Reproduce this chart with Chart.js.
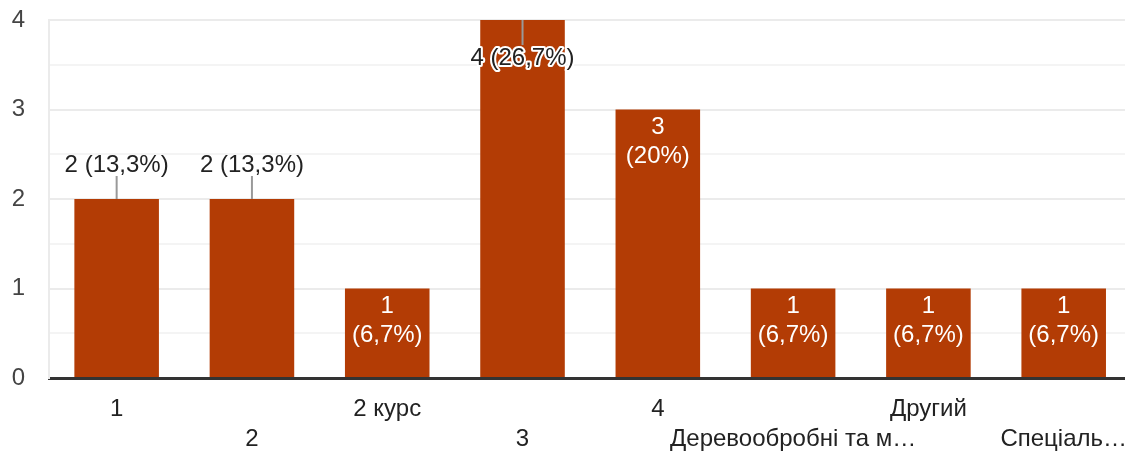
<!DOCTYPE html>
<html>
<head>
<meta charset="utf-8">
<script src="https://cdn.jsdelivr.net/npm/chart.js@4"></script>
<style>
  body { margin: 0; overflow: hidden; background: #fff; }
  #wrap { position: absolute; left: 0; top: 0; width: 1143px; height: 452px; }
</style>
</head>
<body>
<div id="wrap"><canvas id="barChart"></canvas></div>
<script>
const categories = ['1', '2', '2 курс', '3', '4', 'Деревообробні та м…', 'Другий', 'Спеціаль…'];
const counts = [2, 2, 1, 4, 3, 1, 1, 1];
const yTicks = [0, 1, 2, 3, 4];
// where each annotation sits: above with stem, inside top with stem, or wrapped inside the bar
const labelPlacement = ['stem', 'stem', 'inside', 'top', 'inside', 'inside', 'inside', 'inside'];

const barColor = '#b33c05';
const fontFamily = '"Liberation Sans", Arial, sans-serif';
const fontSize = 24;
const total = counts.reduce((a, b) => a + b, 0);

function pct(v) {
  let p = (v / total * 100).toFixed(1).replace('.', ',');
  if (p.endsWith(',0')) p = p.slice(0, -2);
  return '(' + p + '%)';
}

// stagger labels in two rows like the original
const staggered = categories.map((c, i) => i % 2 == 0 ? [c, ''] : ['', c]);

const annotations = {
  id: 'annotations',
  afterDatasetsDraw(chart) {
    const ctx = chart.ctx;
    const meta = chart.getDatasetMeta(0);
    ctx.save();
    ctx.font = fontSize + 'px ' + fontFamily;
    ctx.textAlign = 'center';
    ctx.textBaseline = 'middle';
    meta.data.forEach((bar, i) => {
      const v = counts[i];
      const mode = labelPlacement[i];
      if (mode == 'inside') {
        ctx.fillStyle = '#ffffff';
        ctx.fillText(String(v), bar.x, bar.y + 18);
        ctx.fillText(pct(v), bar.x, bar.y + 47);
      } else if (mode == 'stem') {
        ctx.strokeStyle = '#999999';
        ctx.lineWidth = 2;
        ctx.beginPath();
        ctx.moveTo(bar.x, bar.y);
        ctx.lineTo(bar.x, bar.y - 23);
        ctx.stroke();
        ctx.fillStyle = '#222222';
        ctx.fillText(v + ' ' + pct(v), bar.x, bar.y - 34);
      } else {
        ctx.strokeStyle = '#999999';
        ctx.lineWidth = 2;
        ctx.beginPath();
        ctx.moveTo(bar.x, bar.y);
        ctx.lineTo(bar.x, bar.y + 25);
        ctx.stroke();
        const t = v + ' ' + pct(v);
        ctx.strokeStyle = '#ffffff';
        ctx.lineWidth = 4;
        ctx.lineJoin = 'round';
        ctx.strokeText(t, bar.x, bar.y + 38);
        ctx.fillStyle = '#222222';
        ctx.fillText(t, bar.x, bar.y + 38);
      }
    });
    ctx.restore();
  }
};

let barChartItem = new Chart(document.getElementById('barChart'), {
  type: 'bar',
  data: {
    labels: staggered,
    datasets: [{
      data: counts,
      backgroundColor: barColor,
      borderWidth: 0,
      categoryPercentage: 1,
      barPercentage: 0.625
    }]
  },
  options: {
    responsive: true,
    maintainAspectRatio: false,
    animation: false,
    layout: { padding: { top: 20, left: 0, right: 0, bottom: 0 } },
    plugins: { legend: { display: false }, tooltip: { enabled: false } },
    scales: {
      x: {
        afterFit: s => { s.height = 74; },
        grid: { display: false, drawTicks: false },
        border: { color: '#333333', width: 3 },
        ticks: {
          autoSkip: false, maxRotation: 0, padding: 16,
          color: '#222222', font: { size: fontSize, family: fontFamily, lineHeight: 1.25 }
        }
      },
      y: {
        min: yTicks[0], max: yTicks[yTicks.length - 1],
        afterFit: s => { s.width = 49; s.paddingTop = 0; s.paddingBottom = 0; },
        grid: {
          drawTicks: false,
          color: c => (c.tick && Number.isInteger(c.tick.value)) ? '#ebebeb' : '#f4f4f4',
          lineWidth: 2
        },
        border: { color: '#ebebeb', width: 2 },
        ticks: {
          stepSize: 0.5, padding: 24,
          color: '#444444', font: { size: fontSize, family: fontFamily, lineHeight: 1 },
          callback: v => yTicks.includes(v) ? String(v) : ''
        }
      }
    }
  },
  plugins: [annotations]
});
</script>
</body>
</html>
